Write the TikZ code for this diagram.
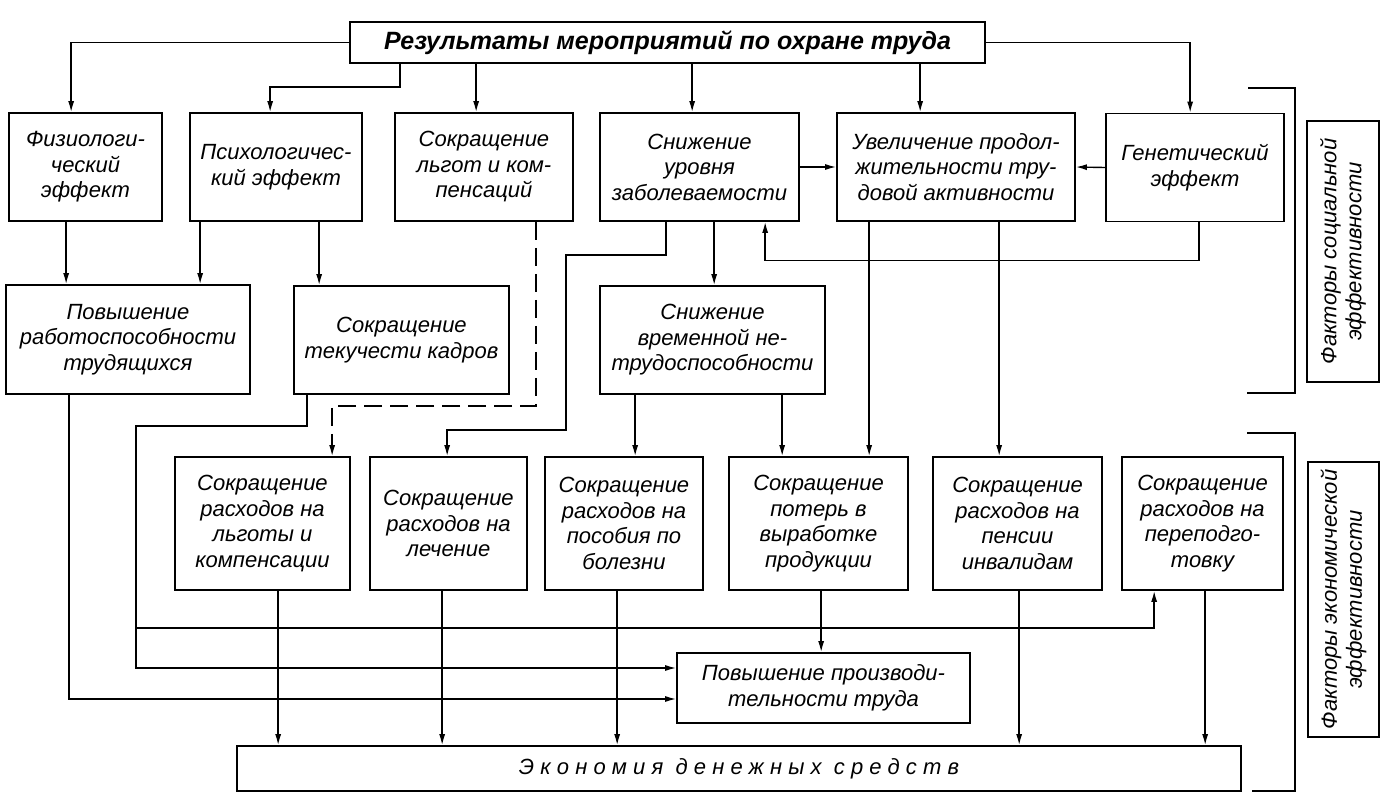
\documentclass[tikz,border=0pt]{standalone}
\usepackage{fontspec}
\setmainfont{Liberation Sans}
\usetikzlibrary{arrows.meta}
\begin{document}
\begin{tikzpicture}[x=1pt,y=-1pt,
  box/.style={draw, line width=1.7pt, align=center, inner sep=2pt,
    font=\itshape\fontsize{22}{25.5}\selectfont},
  arr/.style={line width=1.4pt, -{Latex[length=11pt,width=6pt]}},
  ln/.style={line width=1.5pt},
  dsh/.style={arr, dash pattern=on 18pt off 8pt}]
\path[use as bounding box, fill=white] (0,0) rectangle (1392,804);

% title
\node[box, font=\bfseries\itshape\fontsize{25}{29}\selectfont,
  minimum width=635pt, minimum height=41pt] (title) at (667.5,42.5)
  {Результаты мероприятий по охране труда};

% row 1
\node[box, minimum width=153pt, minimum height=108pt] (fiz) at (85.5,167) {Физиологи-\\ческий\\эффект};
\node[box, minimum width=172pt, minimum height=108pt] (psy) at (276,167) {Психологичес-\\кий эффект};
\node[box, minimum width=178pt, minimum height=108pt] (lgot) at (484,167) {Сокращение\\льгот и ком-\\пенсаций};
\node[box, minimum width=199pt, minimum height=108pt] (zab) at (699.5,167) {Снижение\\уровня\\заболеваемости};
\node[box, minimum width=238pt, minimum height=108pt] (uvel) at (956,167) {Увеличение продол-\\жительности тру-\\довой активности};
\node[box, minimum width=178pt, minimum height=108pt] (gen) at (1195,167.5) {Генетический\\эффект};

% row 2
\node[box, minimum width=244pt, minimum height=109pt] (rab) at (128,339.5) {Повышение\\работоспособности\\трудящихся};
\node[box, minimum width=215pt, minimum height=108pt] (tek) at (401.5,340) {Сокращение\\текучести кадров};
\node[box, minimum width=225pt, minimum height=108pt] (vrem) at (712.5,340) {Снижение\\временной не-\\трудоспособности};

% row 3
\node[box, minimum width=175pt, minimum height=133pt] (sa) at (262.5,523.5) {Сокращение\\расходов на\\льготы и\\компенсации};
\node[box, minimum width=157pt, minimum height=133pt] (sb) at (448.5,523.5) {Сокращение\\расходов на\\лечение};
\node[box, minimum width=158pt, minimum height=133pt] (sc) at (624,523.5) {Сокращение\\расходов на\\пособия по\\болезни};
\node[box, minimum width=179pt, minimum height=133pt] (sd) at (818.5,523.5) {Сокращение\\потерь в\\выработке\\продукции};
\node[box, minimum width=169pt, minimum height=133pt] (se) at (1017.5,523.5) {Сокращение\\расходов на\\пенсии\\инвалидам};
\node[box, minimum width=161pt, minimum height=133pt] (sf) at (1202.5,523.5) {Сокращение\\расходов на\\переподго-\\товку};

% bottom
\node[box, minimum width=293pt, minimum height=70pt] (proizv) at (823.5,688) {Повышение производи-\\тельности труда};
\node[box, minimum width=1004pt, minimum height=45pt,
  font=\itshape\fontsize{22}{25}\selectfont\addfontfeature{LetterSpace=28}] (ekon) at (739,768.5)
  {Экономия денежных средств};

% side labels
\node[box, rotate=90, minimum width=261pt, minimum height=72pt, line width=1.4pt,
  font=\itshape\fontsize{22}{25}\selectfont] (soc) at (1343,251.5) {Факторы социальной\\эффективности};
\node[box, rotate=90, minimum width=275pt, minimum height=71pt, line width=1.4pt,
  font=\itshape\fontsize{22}{25}\selectfont] (eco) at (1343.5,599.5) {Факторы экономической\\эффективности};

% brackets
\draw[ln] (1248,88) -- (1295,88) -- (1295,393) -- (1247,393);
\draw[ln] (1247,433) -- (1295,433) -- (1295,791) -- (1252,791);

% connectors from title
\draw[arr] (title.west) -| ([xshift=63]fiz.north west);
\draw[arr] ([xshift=51]title.south west) -- ++(0,23) -| ([xshift=81]psy.north west);
\draw[arr] ([xshift=127]title.south west) -- ([xshift=82]lgot.north west);
\draw[arr] ([xshift=343]title.south west) -- ([xshift=93]zab.north west);
\draw[arr] ([xshift=571]title.south west) -- ([xshift=84]uvel.north west);
\draw[arr] (title.east) -| ([xshift=85]gen.north west);

% row 1 horizontals
\draw[arr] (zab.east) -- (uvel.west);
\draw[arr] (gen.west) -- (uvel.east);
\draw[arr] ([xshift=94]gen.south west) -- ++(0,38) -| ([xshift=166]zab.south west);

% row 1 -> row 2
\draw[arr] ([xshift=58]fiz.south west) -- ([xshift=61]rab.north west);
\draw[arr] ([xshift=11]psy.south west) -- ([xshift=195]rab.north west);
\draw[arr] ([xshift=130]psy.south west) -- ([xshift=26]tek.north west);
\draw[arr] ([xshift=115]zab.south west) -- ([xshift=115]vrem.north west);

% long routes
\draw[dsh] ([xshift=142]lgot.south west) -- ++(0,184) -| ([xshift=158]sa.north west);
\draw[arr] ([xshift=67]zab.south west) -- ++(0,33) -- ++(-100,0) -- ++(0,175) -| ([xshift=78]sb.north west);
\draw[arr] ([xshift=33]uvel.south west) -- ([xshift=141]sd.north west);
\draw[arr] ([xshift=163]uvel.south west) -- ([xshift=67]se.north west);
\draw[arr] ([xshift=36]vrem.south west) -- ([xshift=91]sc.north west);
\draw[arr] ([xshift=183]vrem.south west) -- ([xshift=54]sd.north west);

% to productivity
\draw[arr] ([xshift=64]rab.south west) |- ([yshift=-11]proizv.west);
\draw[arr] ([xshift=14]tek.south west) -- ++(0,31) -- ++(-171,0) |- ([yshift=20]proizv.west);
\coordinate (jn) at (137,628);
\draw[arr] (jn) -| ([xshift=33]sf.south west);
\draw[arr] ([xshift=93]sd.south west) -- ([xshift=145]proizv.north west);

% to economy
\draw[arr] ([xshift=104]sa.south west) -- ([xshift=42]ekon.north west);
\draw[arr] ([xshift=73]sb.south west) -- ([xshift=206]ekon.north west);
\draw[arr] ([xshift=73]sc.south west) -- ([xshift=381]ekon.north west);
\draw[arr] ([xshift=87]se.south west) -- ([xshift=783]ekon.north west);
\draw[arr] ([xshift=84]sf.south west) -- ([xshift=969]ekon.north west);
\end{tikzpicture}
\end{document}
